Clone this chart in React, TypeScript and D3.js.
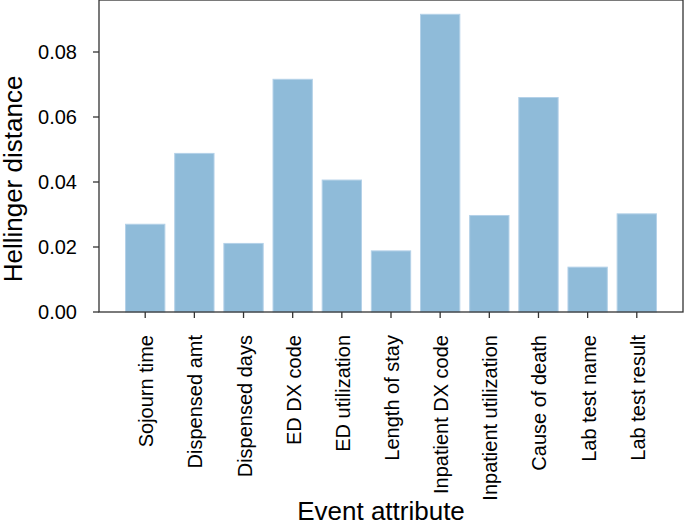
import { useEffect, useRef } from 'react';
import * as d3 from 'd3';

const categories = [
  'Sojourn time',
  'Dispensed amt',
  'Dispensed days',
  'ED DX code',
  'ED utilization',
  'Length of stay',
  'Inpatient DX code',
  'Inpatient utilization',
  'Cause of death',
  'Lab test name',
  'Lab test result',
];
const distances = [0.027, 0.0488, 0.0211, 0.0716, 0.0406, 0.0188, 0.0916, 0.0297, 0.066, 0.0138, 0.0302];
const yTicks = [0, 0.02, 0.04, 0.06, 0.08];

const W = 685;
const H = 527;
const left = 99;
const right = 683;
const top = 0;
const bottom = 312;
const font = '"Liberation Sans", Arial, Helvetica, sans-serif';

const App = () => {
  const svgRef = useRef<SVGSVGElement>(null);

  useEffect(() => {
    const svg = d3.select(svgRef.current);
    svg.selectAll('*').remove();

    const x = d3.scaleLinear().domain([-0.94, categories.length - 1 + 0.94]).range([left, right]);
    const y = d3.scaleLinear().domain([0, 0.096]).range([bottom, top]);
    const bw = x(0.4) - x(-0.4);

    svg
      .append('g')
      .selectAll('rect')
      .data(distances)
      .enter()
      .append('rect')
      .attr('x', (d, i) => x(i) - bw / 2)
      .attr('y', (d) => y(d))
      .attr('width', bw)
      .attr('height', (d) => bottom - y(d))
      .attr('fill', '#8fbbd9')
      .attr('stroke', '#b4d1e8')
      .attr('stroke-width', 1);

    // frame
    svg
      .append('rect')
      .attr('x', left)
      .attr('y', top)
      .attr('width', right - left)
      .attr('height', bottom - top)
      .attr('fill', 'none')
      .attr('stroke', '#333')
      .attr('stroke-width', 1.3);

    const yAxis = svg.append('g');
    yTicks.forEach((t) => {
      yAxis
        .append('line')
        .attr('x1', left - 6)
        .attr('x2', left)
        .attr('y1', y(t))
        .attr('y2', y(t))
        .attr('stroke', '#333')
        .attr('stroke-width', 1.3);
      yAxis
        .append('text')
        .attr('x', left - 22)
        .attr('y', y(t))
        .attr('text-anchor', 'end')
        .attr('dominant-baseline', 'central')
        .attr('font-family', font)
        .attr('font-size', 20)
        .text(t.toFixed(2));
    });

    const xAxis = svg.append('g');
    categories.forEach((c, i) => {
      xAxis
        .append('line')
        .attr('x1', x(i))
        .attr('x2', x(i))
        .attr('y1', bottom)
        .attr('y2', bottom + 6)
        .attr('stroke', '#333')
        .attr('stroke-width', 1.3);
      xAxis
        .append('text')
        .attr('transform', `translate(${x(i) + 1},${bottom + 23}) rotate(-90)`)
        .attr('text-anchor', 'end')
        .attr('dominant-baseline', 'central')
        .attr('font-family', font)
        .attr('font-size', 20)
        .text(c);
    });

    svg
      .append('text')
      .attr('x', 381)
      .attr('y', 520)
      .attr('text-anchor', 'middle')
      .attr('font-family', font)
      .attr('font-size', 26)
      .text('Event attribute');

    svg
      .append('text')
      .attr('transform', `translate(22,179) rotate(-90)`)
      .attr('text-anchor', 'middle')
      .attr('font-family', font)
      .attr('font-size', 26)
      .text('Hellinger distance');
  }, []);

  return (
    <svg
      ref={svgRef}
      width={W}
      height={H}
      style={{ position: 'absolute', left: 0, top: 0, background: '#fff' }}
    />
  );
};

export default App;
